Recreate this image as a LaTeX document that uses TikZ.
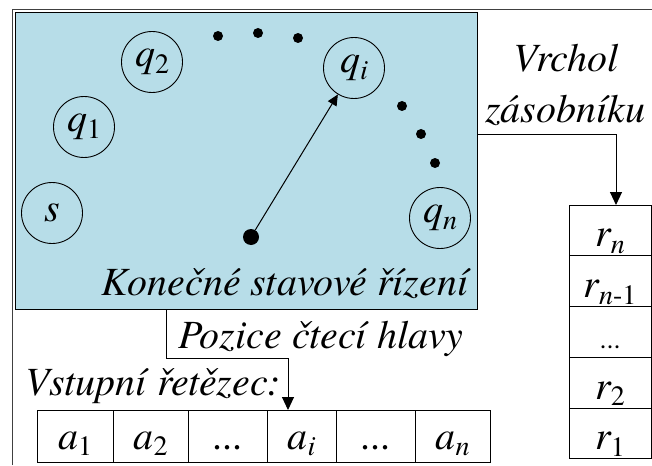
\documentclass[tikz,border=0pt]{standalone}
\usepackage{fontspec}
\setmainfont{texgyretermes}[
  Extension = .otf,
  UprightFont = *-regular,
  ItalicFont = *-italic,
  BoldFont = *-bold]
\newfontfamily\labelfont{texgyretermes}[Extension = .otf, UprightFont = *-italic]
\newfontfamily\plainfont{texgyretermes}[Extension = .otf, UprightFont = *-regular]
\usetikzlibrary{arrows.meta,calc}
\definecolor{ctrlblue}{HTML}{B7DDE8}
% lowered, smaller index as in word-processor subscripts
\newcommand\idx[1]{\raisebox{-0.17em}{\fontsize{28}{28}\selectfont #1}}
\begin{document}
\begin{tikzpicture}[x=1pt,y=-1pt,
  bigtext/.style={font=\fontsize{40}{48}\labelfont, inner sep=0},
  state/.style={circle, draw, line width=0.9pt, minimum size=61pt, inner sep=0,
                font=\fontsize{40}{48}\labelfont},
  smalldot/.style={circle, fill, inner sep=0, minimum size=10pt},
  tapecell/.style={draw, line width=0.9pt, anchor=north west, inner sep=0, outer sep=0,
                   text height=39pt, text depth=13pt, minimum height=52pt,
                   font=\fontsize{40}{48}\labelfont},
  stackcell/.style={draw, line width=0.9pt, anchor=north west, inner sep=0, outer sep=0,
                    minimum width=82pt, text height=41.75pt, text depth=9pt, minimum height=50.75pt,
                    font=\fontsize{40}{48}\labelfont},
  link/.style={line width=1pt, -{Triangle[length=13pt,width=12pt]}}
]
\useasboundingbox (0,0) rectangle (652,465);

% outer frame (top and left edges)
\draw[line width=0.9pt, black!75] (12.5,465) -- (12.5,9) -- (652,9);

% finite state control
\node[draw, fill=ctrlblue, line width=0.9pt, anchor=north west, inner sep=0, outer sep=0,
      minimum width=461.5pt, minimum height=296.5pt] (ctrl) at (15.5,12.5) {};

\node[state] (s)  at (52,213)  {s};
\node[state] (q1) at (84,127)  {q\idx{\plainfont 1}};
\node[state] (q2) at (152,62)  {q\idx{\plainfont 2}};
\node[state] (qi) at (354,68)  {q\idx{i}};
\node[state] (qn) at (440,218) {q\idx{n}};

\node[smalldot] (d1) at (218,36) {};
\node[smalldot] (d2) at (258,33) {};
\node[smalldot] (d3) at (298,38) {};
\node[smalldot] (d4) at (402,106) {};
\node[smalldot] (d5) at (421,134) {};
\node[smalldot] (d6) at (435,163) {};

\node[circle, fill, inner sep=0, minimum size=16pt] (head) at (251,237) {};
\draw[line width=1pt, -{Triangle[length=11pt,width=10pt]}] (head) -- (qi);

\node[bigtext, anchor=base] (ctrllbl) at (285,295) {Konečné stavové řízení};

% input tape
\node[tapecell, minimum width=76pt] (a1)  at (37,410)  {a\idx{\plainfont 1}};
\node[tapecell, minimum width=75pt] (a2)  at (113,410) {a\idx{\plainfont 2}};
\node[tapecell, minimum width=79pt] (ad1) at (188,410) {\plainfont ...};
\node[tapecell, minimum width=69pt] (ai)  at (267,410) {a\idx{i}};
\node[tapecell, minimum width=79pt] (ad2) at (336,410) {\plainfont ...};
\node[tapecell, minimum width=75pt] (an)  at (415,410) {a\idx{n}};

\node[bigtext, anchor=base west] (inlbl) at (25,395) {Vstupní řetězec:};
\node[bigtext, anchor=base] (headlbl) at (321,348) {Pozice čtecí hlavy};

\coordinate (hstart) at (166,309);
\draw[link] (hstart) |- (288,358) -- ($(ai.north west)+(21,0)$);

% pushdown store
\node[stackcell] (rn)  at (569,205)    {r\idx{n}};
\node[stackcell] (rn1) at (569,255.75) {r\idx{n\plainfont -1}};
\node[stackcell, font=\fontsize{28}{30}\plainfont] (rd) at (569,306.5) {...};
\node[stackcell] (r2)  at (569,357.25) {r\idx{\plainfont 2}};
\node[stackcell] (r1)  at (569,408)    {r\idx{\plainfont 1}};

\node[bigtext, anchor=base] (toplbl1) at (566,72)  {Vrchol};
\node[bigtext, anchor=base] (toplbl2) at (565,123) {zásobníku};

\coordinate (tstart) at (477,135);
\draw[link] (tstart) -| ($(rn.north)+(6,0)$);
\end{tikzpicture}
\end{document}
